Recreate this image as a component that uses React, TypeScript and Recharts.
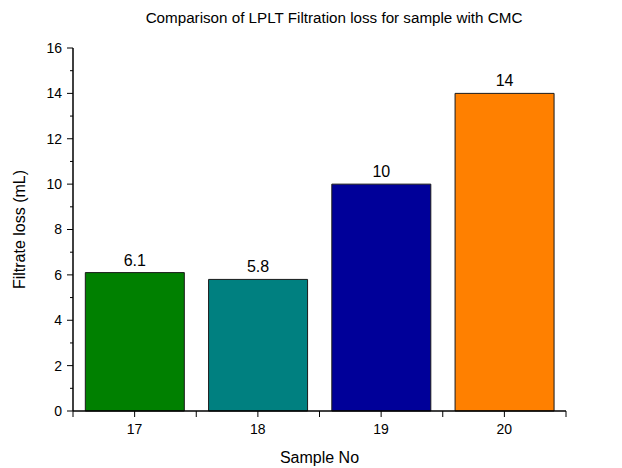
import React from "react";
import { BarChart, Bar, XAxis, YAxis, Cell, LabelList } from "recharts";

// Filtration loss per sample
const samples = ["17", "18", "19", "20"];
const filtrateLoss = [6.1, 5.8, 10, 14];
const barColors = ["#008000", "#008080", "#000099", "#ff8000"];
const yTicks = [0, 1, 2, 3, 4, 5, 6, 7, 8, 9, 10, 11, 12, 13, 14, 15, 16];

const data = samples.map((s, i) => ({ name: s, loss: filtrateLoss[i] }));

const W = 622;
const H = 468;
const LEFT = 73;
const RIGHT = 56;
const BAND = (W - LEFT - RIGHT) / samples.length;
const FONT = "Arial, 'Liberation Sans', sans-serif";

const YTick = (props: any) => {
  const { x, y, payload } = props;
  const major = payload.value % 2 === 0;
  return (
    <g>
      <line x1={x - (major ? 6 : 3)} x2={x} y1={y} y2={y} stroke="#000" strokeWidth={1} />
      {major && (
        <text x={x - 11} y={y} dy="0.35em" textAnchor="end" fontSize={14} fill="#000" fontFamily={FONT}>
          {payload.value}
        </text>
      )}
    </g>
  );
};

const XTick = (props: any) => {
  const { x, y, payload, index } = props;
  return (
    <g>
      <line x1={x} x2={x} y1={y} y2={y + 6} stroke="#000" strokeWidth={1} />
      <line x1={x + BAND / 2} x2={x + BAND / 2} y1={y} y2={y + 6} stroke="#000" strokeWidth={1} />
      {index === 0 && (
        <line x1={x - BAND / 2} x2={x - BAND / 2} y1={y} y2={y + 6} stroke="#000" strokeWidth={1} />
      )}
      <text x={x} y={y + 18} dy="0.35em" textAnchor="middle" fontSize={14} fill="#000" fontFamily={FONT}>
        {payload.value}
      </text>
    </g>
  );
};

export default function App() {
  return (
    <div style={{ position: "absolute", left: 0, top: 0, width: W, height: H, background: "#fff", fontFamily: FONT }}>
      <div
        style={{
          position: "absolute",
          left: 0,
          width: W,
          top: 9,
          textAlign: "center",
          paddingLeft: 46,
          boxSizing: "border-box",
          fontSize: 15.2,
          color: "#000",
        }}
      >
        Comparison of LPLT Filtration loss for sample with CMC
      </div>
      <BarChart
        width={W}
        height={H}
        data={data}
        margin={{ top: 48, right: RIGHT, bottom: 0, left: 0 }}
        barCategoryGap="10%"
      >
        <XAxis
          dataKey="name"
          height={57}
          tickLine={false}
          tickSize={0}
          tickMargin={0}
          tick={<XTick />}
          axisLine={{ stroke: "#000", strokeWidth: 1.5 }}
          label={{ value: "Sample No", position: "insideBottom", offset: 5, fontSize: 16, fill: "#000", fontFamily: FONT }}
        />
        <YAxis
          width={LEFT}
          domain={[0, 16]}
          ticks={yTicks}
          interval={0}
          tickLine={false}
          tickSize={0}
          tickMargin={0}
          tick={<YTick />}
          axisLine={{ stroke: "#000", strokeWidth: 1.5 }}
          label={{ value: "Filtrate loss (mL)", angle: -90, position: "insideLeft", offset: 19, fontSize: 16, fill: "#000", fontFamily: FONT, style: { textAnchor: "middle" } }}
        />
        <Bar dataKey="loss" isAnimationActive={false} stroke="#1a1a1a" strokeWidth={1}>
          {data.map((d, i) => (
            <Cell key={d.name} fill={barColors[i]} />
          ))}
          <LabelList dataKey="loss" position="top" offset={7} fontSize={16} fill="#000" fontFamily={FONT} />
        </Bar>
      </BarChart>
    </div>
  );
}
